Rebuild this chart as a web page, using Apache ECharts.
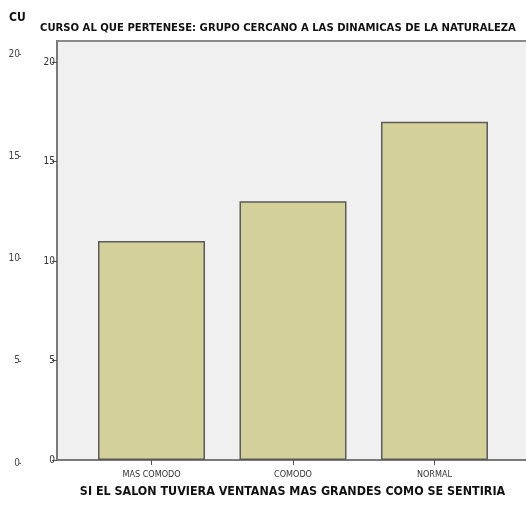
<!DOCTYPE html>
<html><head><meta charset="utf-8">
<script src="https://cdn.jsdelivr.net/npm/echarts@6/dist/echarts.min.js"></script>
<style>html,body{margin:0;padding:0;background:#fff}#c{width:526px;height:505px}</style>
</head><body><div id="c"></div>
<script>
const categories = ["MAS COMODO", "COMODO", "NORMAL"];
const counts = [11, 13, 17];
const yTicks = [0, 5, 10, 15, 20];
const titleText = "CURSO AL QUE PERTENESE: GRUPO CERCANO A LAS DINAMICAS DE LA NATURALEZA";
const xTitle = "SI EL SALON TUVIERA VENTANAS MAS GRANDES COMO SE SENTIRIA";
const cornerText = "CU";

const NF = '"Liberation Sans Narrow", "DejaVu Sans Condensed", "Liberation Sans", sans-serif';
const chart = echarts.init(document.getElementById('c'), null, {renderer: 'canvas'});
chart.setOption({
  animation: false,
  backgroundColor: '#ffffff',
  title: [
    {text: titleText, left: 40, top: 23, padding: 0, textStyle: {fontFamily: NF, fontSize: 11.2, fontWeight: 'bold', color: '#111'}},
    {text: cornerText, left: 9, top: 12, padding: 0, textStyle: {fontFamily: NF, fontSize: 12, fontWeight: 'bold', color: '#111'}}
  ],
  grid: [
    {left: 57, right: -2, top: 41, bottom: 45, show: true, outerBoundsMode: 'none', containLabel: false, backgroundColor: '#f0f0f0', borderColor: '#8a8a8a', borderWidth: 2},
    {left: 21, width: 1, top: 54, bottom: 42, show: false, outerBoundsMode: 'none', containLabel: false}
  ],
  xAxis: [
    {
      gridIndex: 0, type: 'value', min: -0.668, max: 2.661,
      axisLine: {show: true, onZero: false, lineStyle: {color: '#7a7a7a', width: 2}},
      axisTick: {show: true, customValues: [0, 1, 2], length: 5, lineStyle: {color: '#555', width: 1}},
      axisLabel: {customValues: [0, 1, 2], formatter: v => categories[Math.round(v)] || '', fontFamily: NF, fontSize: 9, color: '#333', margin: 10},
      splitLine: {show: false},
      name: xTitle, nameLocation: 'middle', nameGap: 26,
      nameTextStyle: {fontFamily: NF, fontSize: 12.4, fontWeight: 'bold', color: '#111'}
    },
    {gridIndex: 1, type: 'value', show: false}
  ],
  yAxis: [
    {
      gridIndex: 0, type: 'value', min: 0, max: 21.055, position: 'left',
      axisLine: {show: true, onZero: false, lineStyle: {color: '#7a7a7a', width: 2}},
      axisTick: {show: true, customValues: yTicks, length: 5, lineStyle: {color: '#555', width: 1}},
      axisLabel: {customValues: yTicks, fontFamily: NF, fontSize: 10, color: '#333', margin: 2},
      splitLine: {show: false}
    },
    {
      gridIndex: 1, type: 'value', min: 0, max: 20, position: 'left',
      axisLine: {show: false, onZero: false},
      axisTick: {show: true, customValues: yTicks, length: 2, lineStyle: {color: '#666', width: 1}},
      axisLabel: {customValues: yTicks, fontFamily: NF, fontSize: 10, color: '#444', margin: 1},
      splitLine: {show: false}
    }
  ],
  series: [{
    type: 'bar', xAxisIndex: 0, yAxisIndex: 0,
    data: counts.map((v, i) => [i, v]),
    barWidth: 107,
    itemStyle: {color: '#d4d09a', borderColor: '#5a5a5a', borderWidth: 1.5}
  }]
});
</script></body></html>
